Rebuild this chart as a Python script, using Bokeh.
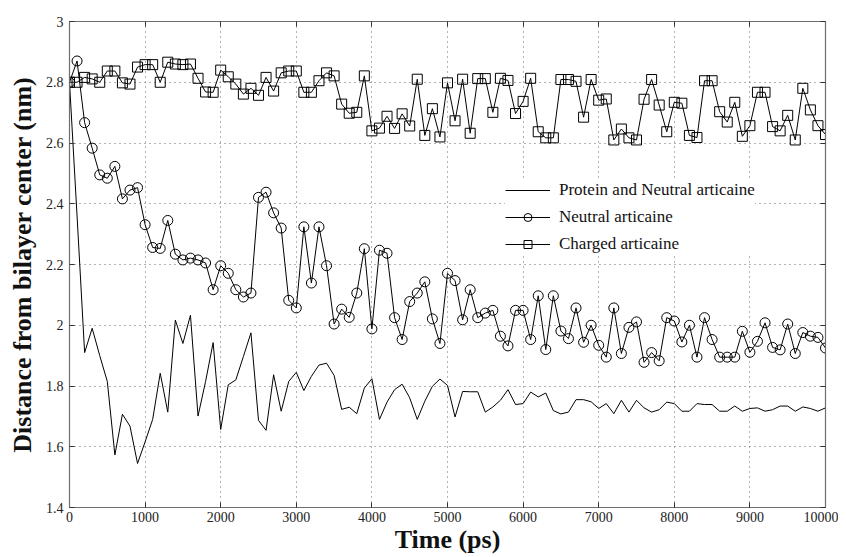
from bokeh.plotting import figure
from bokeh.models import (LinearAxis, FixedTicker, Legend, LegendItem, ColumnDataSource,
                          CustomLabelingPolicy)
from bokeh.embed import file_html
from bokeh.resources import INLINE

time_ps = list(range(0, 10100, 100))

protein_neutral = [
    2.80, 2.36, 1.91, 1.99, 1.90, 1.815, 1.573, 1.707, 1.668, 1.545,
    1.616, 1.69, 1.842, 1.714, 2.017, 1.94, 2.033, 1.701, 1.815, 1.943,
    1.657, 1.804, 1.82, 1.897, 1.975, 1.687, 1.654, 1.837, 1.717, 1.815,
    1.845, 1.785, 1.832, 1.869, 1.875, 1.835, 1.723, 1.73, 1.709, 1.793,
    1.824, 1.69, 1.747, 1.788, 1.806, 1.761, 1.69, 1.75, 1.799, 1.823,
    1.802, 1.698, 1.782, 1.781, 1.781, 1.714, 1.731, 1.753, 1.788, 1.739,
    1.742, 1.78, 1.764, 1.777, 1.719, 1.708, 1.714, 1.755, 1.755, 1.748,
    1.726, 1.742, 1.709, 1.753, 1.714, 1.753, 1.728, 1.714, 1.722, 1.747,
    1.742, 1.717, 1.717, 1.742, 1.739, 1.739, 1.717, 1.717, 1.734, 1.717,
    1.726, 1.728, 1.717, 1.722, 1.734, 1.734, 1.717, 1.731, 1.726, 1.717,
    1.728,
]

neutral = [
    2.80, 2.87, 2.667, 2.583, 2.495, 2.484, 2.523, 2.416, 2.445, 2.453,
    2.331, 2.256, 2.253, 2.345, 2.234, 2.215, 2.221, 2.215, 2.205, 2.117,
    2.196, 2.171, 2.117, 2.093, 2.106, 2.421, 2.438, 2.37, 2.32, 2.082,
    2.057, 2.324, 2.139, 2.324, 2.196, 2.004, 2.053, 2.026, 2.106, 2.252,
    1.988, 2.247, 2.237, 2.025, 1.953, 2.078, 2.106, 2.143, 2.021, 1.94,
    2.171, 2.147, 2.018, 2.117, 2.025, 2.04, 2.049, 1.964, 1.932, 2.049,
    2.049, 1.953, 2.097, 1.92, 2.097, 1.981, 1.956, 2.057, 1.944, 2.0,
    1.934, 1.895, 2.057, 1.907, 1.993, 2.011, 1.878, 1.91, 1.883, 2.025,
    2.014, 1.945, 2.0, 1.895, 2.025, 1.953, 1.895, 1.895, 1.895, 1.98,
    1.911, 1.947, 2.008, 1.927, 1.919, 2.004, 1.907, 1.976, 1.964, 1.96,
    1.925,
]

charged = [
    2.80, 2.80, 2.816, 2.811, 2.80, 2.837, 2.837, 2.798, 2.794, 2.85,
    2.858, 2.858, 2.80, 2.866, 2.86, 2.858, 2.86, 2.813, 2.768, 2.767,
    2.84, 2.818, 2.794, 2.761, 2.78, 2.757, 2.816, 2.771, 2.831, 2.837,
    2.837, 2.767, 2.767, 2.805, 2.831, 2.821, 2.728, 2.698, 2.701, 2.821,
    2.64, 2.649, 2.688, 2.648, 2.696, 2.656, 2.81, 2.625, 2.713, 2.62,
    2.798, 2.673, 2.81, 2.632, 2.812, 2.812, 2.701, 2.813, 2.806, 2.697,
    2.737, 2.813, 2.637, 2.617, 2.617, 2.809, 2.809, 2.803, 2.685, 2.809,
    2.741, 2.745, 2.61, 2.646, 2.617, 2.61, 2.744, 2.809, 2.725, 2.637,
    2.734, 2.731, 2.625, 2.618, 2.805, 2.805, 2.703, 2.669, 2.734, 2.622,
    2.657, 2.767, 2.767, 2.654, 2.64, 2.691, 2.61, 2.78, 2.709, 2.657,
    2.628,
]

x_ticks = [0, 1000, 2000, 3000, 4000, 5000, 6000, 7000, 8000, 9000, 10000]
y_ticks = [1.4, 1.6, 1.8, 2.0, 2.2, 2.4, 2.6, 2.8, 3.0]
y_tick_labels = ["1.4", "1.6", "1.8", "2", "2.2", "2.4", "2.6", "2.8", "3"]

series_names = ["Protein and Neutral articaine", "Neutral articaine", "Charged articaine"]

FONT = "Liberation Serif"
AXIS_GRAY = "#6e6e6e"

p = figure(width=838, height=556, x_range=(0, 10000), y_range=(1.4, 3.0),
           output_backend="svg", toolbar_location=None,
           min_border_left=69, min_border_right=13, min_border_top=21, min_border_bottom=46)
p.background_fill_color = "white"
p.border_fill_color = "white"
p.outline_line_color = AXIS_GRAY
p.outline_line_width = 1.2

src = ColumnDataSource(dict(t=time_ps, pn=protein_neutral, n=neutral, c=charged))

r1 = p.line("t", "pn", source=src, line_color="black", line_width=1)
r2l = p.line("t", "n", source=src, line_color="black", line_width=1)
r2m = p.scatter("t", "n", source=src, marker="circle", size=10, fill_color=None,
                line_color="black", line_width=1)
r3l = p.line("t", "c", source=src, line_color="black", line_width=1)
r3m = p.scatter("t", "c", source=src, marker="square", size=10, fill_color=None,
                line_color="black", line_width=1)

# axes
for ax in (p.xaxis[0], p.yaxis[0]):
    ax.major_tick_in = 5
    ax.major_tick_out = 0
    ax.minor_tick_in = 0
    ax.minor_tick_out = 0
    ax.axis_line_color = AXIS_GRAY
    ax.major_tick_line_color = "#333333"
    ax.major_label_text_font = FONT
    ax.major_label_text_font_size = "14px"
    ax.major_label_text_color = "#222222"
    ax.axis_label_text_font = FONT
    ax.axis_label_text_font_style = "bold"
    ax.axis_label_text_font_size = "26px"
    ax.axis_label_text_color = "#111111"

p.xaxis[0].ticker = FixedTicker(ticks=x_ticks)
p.yaxis[0].ticker = FixedTicker(ticks=y_ticks)
p.yaxis[0].major_label_overrides = dict(zip(y_ticks, y_tick_labels))
p.xaxis[0].axis_label = "Time (ps)"
p.yaxis[0].axis_label = "Distance from bilayer center (nm)"
p.xaxis[0].major_label_standoff = 4
p.yaxis[0].major_label_standoff = 6
p.xaxis[0].axis_label_standoff = 0
p.yaxis[0].axis_label_standoff = 6

for loc, ticks in (("right", y_ticks), ("above", x_ticks)):
    a = LinearAxis(ticker=FixedTicker(ticks=ticks))
    a.major_tick_in = 5
    a.major_tick_out = 0
    a.minor_tick_in = 0
    a.minor_tick_out = 0
    a.axis_line_color = AXIS_GRAY
    a.major_tick_line_color = "#333333"
    a.major_label_text_font_size = "1px"
    a.major_label_standoff = 0
    a.major_label_policy = CustomLabelingPolicy(code="return []")
    p.add_layout(a, loc)

p.xgrid.ticker = FixedTicker(ticks=x_ticks)
p.ygrid.ticker = FixedTicker(ticks=y_ticks)
for g in (p.xgrid[0], p.ygrid[0]):
    g.grid_line_color = "#666666"
    g.grid_line_dash = "1 4"
    g.grid_line_width = 1

legend = Legend(items=[
    LegendItem(label=series_names[0], renderers=[r1]),
    LegendItem(label=series_names[1], renderers=[r2l, r2m]),
    LegendItem(label=series_names[2], renderers=[r3l, r3m]),
], location=(436, 253))
legend.background_fill_color = "white"
legend.background_fill_alpha = 1.0
legend.border_line_color = None
legend.label_text_font = FONT
legend.label_text_font_size = "17px"
legend.label_text_color = "#111111"
legend.glyph_width = 45
legend.glyph_height = 20
legend.label_height = 20
legend.spacing = 7
legend.padding = 5
legend.margin = 0
legend.label_standoff = 9
p.add_layout(legend, "center")

open("out.html", "w").write(file_html(p, INLINE))
